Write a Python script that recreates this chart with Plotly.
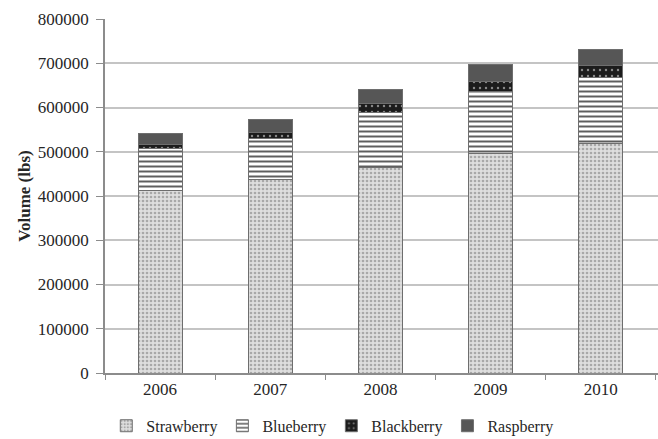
import plotly.graph_objects as go

years = ["2006", "2007", "2008", "2009", "2010"]
strawberry = [413000, 437000, 465000, 497000, 518000]
blueberry = [95000, 92000, 124000, 139000, 149000]
blackberry = [8000, 15000, 21000, 23000, 27000]
raspberry = [26000, 28000, 30000, 39000, 37000]

FONT = "Liberation Serif"
INK = "#262626"
EDGE = dict(color="#6e6e6e", width=1)

fig = go.Figure()
fig.add_bar(
    name="Strawberry", x=years, y=strawberry,
    marker=dict(color="#d6d6d6", line=EDGE,
                pattern=dict(shape=".", fgcolor="#a8a8a8", bgcolor="#dedede",
                             size=4, solidity=0.35, fillmode="replace")),
)
fig.add_bar(
    name="Blueberry", x=years, y=blueberry,
    marker=dict(color="white", line=EDGE,
                pattern=dict(shape="-", fgcolor="#5e5e5e", bgcolor="#ffffff",
                             size=5, solidity=0.4, fillmode="replace")),
)
fig.add_bar(
    name="Blackberry", x=years, y=blackberry,
    marker=dict(color="#1c1c1c", line=EDGE,
                pattern=dict(shape=".", fgcolor="#8a8a8a", bgcolor="#1c1c1c",
                             size=6, solidity=0.12, fillmode="replace")),
)
fig.add_bar(
    name="Raspberry", x=years, y=raspberry,
    marker=dict(color="#565656", line=EDGE),
)

fig.update_layout(
    barmode="stack",
    bargap=0.6,
    width=658, height=439,
    margin=dict(l=105, r=0, t=19, b=66),
    paper_bgcolor="white", plot_bgcolor="white",
    font=dict(family=FONT, size=17, color=INK),
    showlegend=True,
    legend=dict(
        orientation="h", xref="container", yref="container",
        x=0.505, xanchor="center", y=0.03, yanchor="middle",
        font=dict(family=FONT, size=16, color=INK),
        traceorder="normal", itemwidth=30,
    ),
    xaxis=dict(
        type="category", range=[-0.5, 4.52],
        showline=True, linecolor="#8c8c8c", linewidth=1.5,
        ticks="outside", tickson="boundaries", ticklen=5, tickcolor="#8c8c8c",
        tickfont=dict(family=FONT, size=17, color=INK),
        showgrid=False,
    ),
    yaxis=dict(
        range=[0, 800000], dtick=100000, tickformat="d",
        showline=True, linecolor="#8c8c8c", linewidth=1.5,
        ticks="outside", ticklen=7, tickcolor="#8c8c8c",
        ticklabelstandoff=4,
        showgrid=True, gridcolor="#c4c4c4", gridwidth=1.5,
        zeroline=False,
        tickfont=dict(family=FONT, size=17, color=INK),
        title=dict(text="<b>Volume (lbs)</b>", standoff=3,
                   font=dict(family=FONT, size=17, color=INK)),
    ),
)

fig.write_html("out.html")
